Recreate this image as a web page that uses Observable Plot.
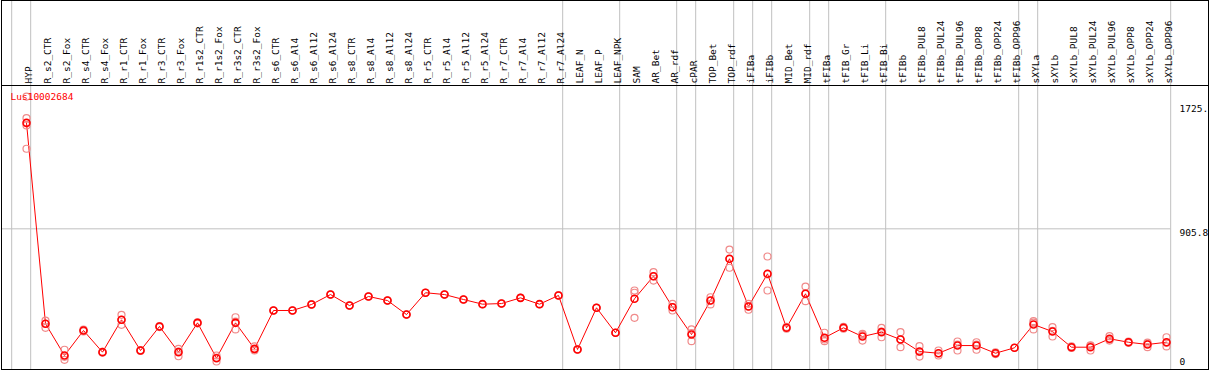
<!DOCTYPE html>
<html>
<head>
<meta charset="utf-8">
<script src="https://cdn.jsdelivr.net/npm/d3@7"></script>
<script src="https://cdn.jsdelivr.net/npm/@observablehq/plot@0.6"></script>
<style>
  html, body { margin: 0; padding: 0; background: #fff; }
  #chart svg { display: block; }
</style>
</head>
<body>
<div id="chart"></div>
<script>
const title = "Lus10002684";

const categories = ["HYP","R_s2_CTR","R_s2_Fox","R_s4_CTR","R_s4_Fox","R_r1_CTR","R_r1_Fox","R_r3_CTR","R_r3_Fox",
  "R_r1s2_CTR","R_r1s2_Fox","R_r3s2_CTR","R_r3s2_Fox","R_s6_CTR","R_s6_Al4","R_s6_Al12","R_s6_Al24",
  "R_s8_CTR","R_s8_Al4","R_s8_Al12","R_s8_Al24","R_r5_CTR","R_r5_Al4","R_r5_Al12","R_r5_Al24",
  "R_r7_CTR","R_r7_Al4","R_r7_Al12","R_r7_Al24","LEAF_N","LEAF_P","LEAF_NPK","SAM","AR_Bet","AR_rdf",
  "cPAR","TOP_Bet","TOP_rdf","iFIBa","iFIBb","MID_Bet","MID_rdf","tFIBa","tFIB_Gr","tFIB_Li","tFIB_Bi",
  "tFIBb","tFIBb_PUL8","tFIBb_PUL24","tFIBb_PUL96","tFIBb_OPP8","tFIBb_OPP24","tFIBb_OPP96",
  "sXYLa","sXYLb","sXYLb_PUL8","sXYLb_PUL24","sXYLb_PUL96","sXYLb_OPP8","sXYLb_OPP24","sXYLb_OPP96"];

// first category of each group (vertical separators)
const groupStarts = ["HYP","R_s2_CTR","LEAF_N","SAM","cPAR","TOP_Bet","iFIBa","iFIBb","MID_Bet",
  "tFIBa","tFIB_Gr","tFIBb","sXYLa","sXYLb"];

const means = [1610,275,64,230,86,301,97,257,86,281,46,281,108,
  363,363,403,469,396,456,429,336,481,469,436,405,409,447,405,463,104,381,215,
  441,591,385,203,429,707,390,607,248,474,182,248,190,219,170,
  90,79,130,130,79,115,270,223,119,119,175,152,137,152];

const replicates = [
  [1785,1641,1593,1438],[296,275,248],[102,55,35],[236,224],[88,83],[334,301,268],[100,94],[260,253],
  [108,90,59],[285,277],[64,50,24],[318,289,237],[124,104,97],
  [363,363],[363,363],[403,403],[469,469],[396,396],[456,456],[429,429],[336,336],[481,481],[469,469],
  [436,436],[405,405],[409,409],[447,447],[405,405],[463,463],[104,104],[381,381],[215,215],
  [496,481,314],[618,590,562],[407,385,363],[237,212,159],[451,429,403],[768,705,647],[407,390,368],
  [722,603,496],[254,242],[522,475,425],[215,171,159],[254,242],[208,199,163],[248,223,185],[219,172,119],
  [126,88,57],[97,77,64],[157,137,97],[152,137,102],[85,73],[115],[292,282,237],[252,228,190],
  [124,114],[128,132,97],[192,170,163],[156,148],[150,142,119],[185,148,124]];

const yTicks = [0, 905.8, 1725];
const yTickLabels = ["0", "905.8", "1725."];

// derived tables
const meanRows = means.map((v, i) => ({i, v}));
const repRows = replicates.flatMap((arr, i) => arr.map(v => ({i, v})));
const boundaries = groupStarts.map(c => categories.indexOf(c) - 0.78).concat([categories.length - 0.78]);
const tickRows = yTicks.map((v, k) => ({v, label: yTickLabels[k]}));

const W = 1209, H = 370;
const yMin = -29.2, yMax = 1858.4;

const chart = Plot.plot({
  width: W,
  height: H,
  marginTop: 85,
  marginBottom: 1,
  marginLeft: 26,
  marginRight: 43,
  style: {fontFamily: "'DejaVu Sans Mono', monospace", fontSize: "9.5px", background: "#fff"},
  x: {domain: [0, categories.length - 1], axis: null},
  y: {domain: [yMin, yMax], axis: null},
  marks: [
    Plot.ruleX(boundaries, {x: d => d, stroke: "#c0c0c0", strokeWidth: 1, insetTop: -85}),
    Plot.ruleY(tickRows.filter(d => d.v > 0 && d.v < yTicks[yTicks.length - 1]),
      {y: "v", stroke: "#c0c0c0", strokeWidth: 1, insetLeft: -25, insetRight: -4.5}),
    Plot.ruleY([yMax], {stroke: "#000", strokeWidth: 1, insetLeft: -25, insetRight: -42}),
    Plot.line(meanRows, {x: "i", y: "v", stroke: "#ff0000", strokeWidth: 1}),
    Plot.dot(repRows, {x: "i", y: "v", r: 3.5, stroke: "#f08a8a", strokeWidth: 1.2, fill: "none"}),
    Plot.dot(meanRows, {x: "i", y: "v", r: 3.5, stroke: "#ff0000", strokeWidth: 1.6, fill: "none"}),
    Plot.text(categories, {x: (d, i) => i, text: d => d, frameAnchor: "top", rotate: -90,
      textAnchor: "start", dy: -2, dx: -1, fill: "#000"}),
    Plot.text(tickRows.filter(d => d.v !== 0), {y: "v", text: "label", frameAnchor: "right", dx: 13,
      textAnchor: "start", lineAnchor: "top", fill: "#000"}),
    Plot.text(tickRows.filter(d => d.v === 0), {y: "v", text: "label", frameAnchor: "right", dx: 13,
      textAnchor: "start", lineAnchor: "bottom", fill: "#000"}),
    Plot.text([title], {frameAnchor: "top-left", dx: -16, dy: 8, textAnchor: "start", lineAnchor: "top",
      fill: "#ff0000", fontSize: 9.5}),
    Plot.frame({stroke: "#000", strokeWidth: 1, insetTop: -85, insetLeft: -25, insetRight: -42})
  ]
});

document.getElementById("chart").appendChild(chart);
</script>
</body>
</html>
